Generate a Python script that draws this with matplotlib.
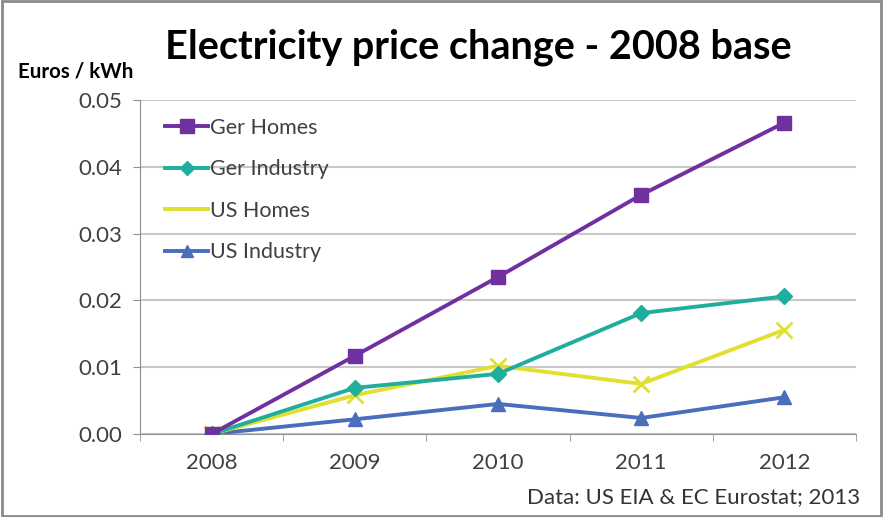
import numpy as np
import matplotlib.pyplot as plt
from matplotlib.lines import Line2D
from matplotlib.patches import Rectangle

plt.rcParams['font.family'] = ['Lato', 'DejaVu Sans']

years        = ['2008', '2009', '2010', '2011', '2012']
ger_homes    = [0.0, 0.0117, 0.0235, 0.0358, 0.0466]
ger_industry = [0.0, 0.0069, 0.0090, 0.0181, 0.0206]
us_homes     = [0.0, 0.0058, 0.0102, 0.0075, 0.0156]
us_industry  = [0.0, 0.0022, 0.0045, 0.0024, 0.0055]
y_ticks      = [0.00, 0.01, 0.02, 0.03, 0.04, 0.05]

c_gh = '#7030A0'
c_gi = '#1FAE9E'
c_uh = '#E0E030'
c_ui = '#4A6DBE'

fig = plt.figure(figsize=(8.83, 5.17), dpi=100)
ax = fig.add_axes([140/883, 1 - 434/517, 716/883, 334/517])

x = np.arange(len(years))
ax.plot(x, ger_homes, '-', color=c_gh, lw=2.8, marker='s', ms=10, zorder=5)
ax.plot(x, ger_industry, '-', color=c_gi, lw=2.8, marker='D', ms=8, zorder=4)
ax.plot(x, us_homes, '-', color=c_uh, lw=2.8, marker='x', ms=11, mew=2, zorder=3)
ax.plot(x, us_industry, '-', color=c_ui, lw=2.8, marker='^', ms=10, zorder=2)

ax.set_xlim(-0.5, len(years) - 0.5)
ax.set_ylim(0, 0.05)
ax.set_yticks(y_ticks)
ax.set_yticklabels(['%.2f' % v for v in y_ticks], fontsize=16, color='#404040')
ax.set_xticks(x)
ax.set_xticklabels(years, fontsize=16, color='#404040')
ax.tick_params(axis='x', length=0, pad=14)
ax.set_xticks(np.arange(-0.5, len(years) - 0.4, 1), minor=True)
ax.tick_params(axis='x', which='minor', length=5, color='#909090', direction='out')
ax.tick_params(axis='y', length=5, color='#909090', pad=8)
ax.yaxis.grid(True, color='#C8C8C8', lw=1.5)
ax.set_axisbelow(True)
for s in ['top', 'right']:
    ax.spines[s].set_visible(False)
ax.spines['left'].set_color('#909090')
ax.spines['bottom'].set_color('#909090')

handles = [
    Line2D([], [], color=c_gh, lw=2.8, marker='s', ms=10),
    Line2D([], [], color=c_gi, lw=2.8, marker='D', ms=7),
    Line2D([], [], color=c_uh, lw=2.8),
    Line2D([], [], color=c_ui, lw=2.8, marker='^', ms=9),
]
ax.legend(handles, ['Ger Homes', 'Ger Industry', 'US Homes', 'US Industry'],
          loc='upper left', bbox_to_anchor=(0.008, 1.005), frameon=False,
          fontsize=15.5, labelcolor='#404040', handlelength=2.0,
          handletextpad=0.1, labelspacing=1.0)

fig.text(478/883, 1 - 47/517, 'Electricity price change - 2008 base',
         ha='center', va='center', fontsize=28.5, fontweight='bold')
fig.text(18/883, 1 - 72/517, 'Euros / kWh', ha='left', va='center',
         fontsize=14.8, fontweight='bold')
fig.text(860/883, 1 - 497/517, 'Data: US EIA & EC Eurostat; 2013',
         ha='right', va='center', fontsize=16, color='#333333')

fig.patches.append(Rectangle((0.002, 0.002), 0.996, 0.996, transform=fig.transFigure,
                             fill=False, edgecolor='#8A8A8A', lw=2))

fig.savefig('out.png', dpi=100)
